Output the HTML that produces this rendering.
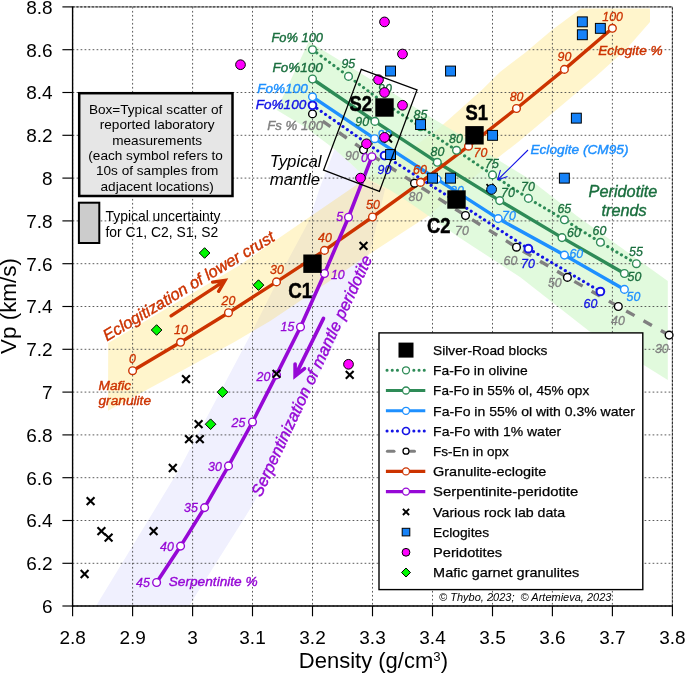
<!DOCTYPE html>
<html><head><meta charset="utf-8"><title>Vp vs Density</title>
<style>html,body{margin:0;padding:0;background:#fff}svg{display:block}text{font-family:"Liberation Sans",Arial,sans-serif}.it{font-style:italic}.cal{font-family:"Liberation Sans",sans-serif}</style></head><body>
<svg width="685" height="673" viewBox="0 0 685 673">
<rect width="685" height="673" fill="#fff"/>
<polygon points="96.0,606.0 180.0,468.0 253.0,330.0 287.0,262.0 309.5,220.0 319.0,190.0 334.6,149.3 350.0,163.0 367.3,179.0 385.0,189.0 372.0,245.0 336.0,340.0 296.0,420.0 252.0,506.0 189.0,606.0" fill="#F0F0FE" fill-opacity="1" />
<polygon points="108.2,343.0 108.0,410.8 168.6,378.0 234.9,341.7 270.2,320.9 300.0,301.0 373.7,251.3 428.4,215.7 489.5,164.3 519.4,141.0 558.0,108.4 596.7,75.7 626.4,48.9 650.0,22.0 650.0,8.4 581.0,8.4 552.0,30.0 524.8,53.0 500.0,72.0 481.8,90.0 437.8,129.2 390.0,164.2 367.3,177.5 295.0,227.0 240.0,265.0 172.0,305.3" fill="#FFCC00" fill-opacity="0.2" />
<polygon points="308.8,41.4 276.7,110.0 305.0,127.0 319.0,137.4 334.6,149.3 350.0,163.0 367.3,179.0 390.0,190.0 410.0,203.0 428.4,215.7 460.0,238.0 520.0,277.0 589.0,331.0 667.8,380.0 667.8,281.0 577.0,216.0 529.3,178.9 492.2,156.3 456.1,132.5 420.4,111.1 400.0,97.5 370.0,79.0" fill="#D7F8D2" fill-opacity="0.75" />
<line x1="72.6" y1="6.9" x2="72.6" y2="606.0" stroke="#484848" stroke-width="0.9" stroke-dasharray="1.7 2.3"/>
<line x1="132.6" y1="6.9" x2="132.6" y2="606.0" stroke="#484848" stroke-width="0.9" stroke-dasharray="1.7 2.3"/>
<line x1="192.6" y1="6.9" x2="192.6" y2="606.0" stroke="#484848" stroke-width="0.9" stroke-dasharray="1.7 2.3"/>
<line x1="252.5" y1="6.9" x2="252.5" y2="606.0" stroke="#484848" stroke-width="0.9" stroke-dasharray="1.7 2.3"/>
<line x1="312.5" y1="6.9" x2="312.5" y2="606.0" stroke="#484848" stroke-width="0.9" stroke-dasharray="1.7 2.3"/>
<line x1="372.5" y1="6.9" x2="372.5" y2="606.0" stroke="#484848" stroke-width="0.9" stroke-dasharray="1.7 2.3"/>
<line x1="432.5" y1="6.9" x2="432.5" y2="606.0" stroke="#484848" stroke-width="0.9" stroke-dasharray="1.7 2.3"/>
<line x1="492.5" y1="6.9" x2="492.5" y2="606.0" stroke="#484848" stroke-width="0.9" stroke-dasharray="1.7 2.3"/>
<line x1="552.4" y1="6.9" x2="552.4" y2="606.0" stroke="#484848" stroke-width="0.9" stroke-dasharray="1.7 2.3"/>
<line x1="612.4" y1="6.9" x2="612.4" y2="606.0" stroke="#484848" stroke-width="0.9" stroke-dasharray="1.7 2.3"/>
<line x1="672.4" y1="6.9" x2="672.4" y2="606.0" stroke="#484848" stroke-width="0.9" stroke-dasharray="1.7 2.3"/>
<line x1="72.6" y1="606.0" x2="672.4" y2="606.0" stroke="#484848" stroke-width="0.9" stroke-dasharray="1.7 2.3"/>
<line x1="72.6" y1="563.3" x2="672.4" y2="563.3" stroke="#484848" stroke-width="0.9" stroke-dasharray="1.7 2.3"/>
<line x1="72.6" y1="520.5" x2="672.4" y2="520.5" stroke="#484848" stroke-width="0.9" stroke-dasharray="1.7 2.3"/>
<line x1="72.6" y1="477.7" x2="672.4" y2="477.7" stroke="#484848" stroke-width="0.9" stroke-dasharray="1.7 2.3"/>
<line x1="72.6" y1="434.9" x2="672.4" y2="434.9" stroke="#484848" stroke-width="0.9" stroke-dasharray="1.7 2.3"/>
<line x1="72.6" y1="392.1" x2="672.4" y2="392.1" stroke="#484848" stroke-width="0.9" stroke-dasharray="1.7 2.3"/>
<line x1="72.6" y1="349.3" x2="672.4" y2="349.3" stroke="#484848" stroke-width="0.9" stroke-dasharray="1.7 2.3"/>
<line x1="72.6" y1="306.5" x2="672.4" y2="306.5" stroke="#484848" stroke-width="0.9" stroke-dasharray="1.7 2.3"/>
<line x1="72.6" y1="263.7" x2="672.4" y2="263.7" stroke="#484848" stroke-width="0.9" stroke-dasharray="1.7 2.3"/>
<line x1="72.6" y1="220.9" x2="672.4" y2="220.9" stroke="#484848" stroke-width="0.9" stroke-dasharray="1.7 2.3"/>
<line x1="72.6" y1="178.1" x2="672.4" y2="178.1" stroke="#484848" stroke-width="0.9" stroke-dasharray="1.7 2.3"/>
<line x1="72.6" y1="135.3" x2="672.4" y2="135.3" stroke="#484848" stroke-width="0.9" stroke-dasharray="1.7 2.3"/>
<line x1="72.6" y1="92.5" x2="672.4" y2="92.5" stroke="#484848" stroke-width="0.9" stroke-dasharray="1.7 2.3"/>
<line x1="72.6" y1="49.7" x2="672.4" y2="49.7" stroke="#484848" stroke-width="0.9" stroke-dasharray="1.7 2.3"/>
<line x1="72.6" y1="6.9" x2="672.4" y2="6.9" stroke="#484848" stroke-width="0.9" stroke-dasharray="1.7 2.3"/>
<path d="M72.6 6.9H672.4V606.0" fill="none" stroke="#9a9a9a" stroke-width="1"/>
<path d="M72.6 6.9H672.4V606.0" fill="none" stroke="#222" stroke-width="1" stroke-dasharray="2.2 1.6"/>
<line x1="72.6" y1="6.4" x2="72.6" y2="606.8" stroke="#000" stroke-width="1.4"/>
<line x1="71.9" y1="606.0" x2="672.9" y2="606.0" stroke="#000" stroke-width="1.5"/>
<line x1="72.6" y1="606.0" x2="72.6" y2="616.3" stroke="#000" stroke-width="1.15"/>
<text x="72.6" y="643.7" font-size="19" text-anchor="middle">2.8</text>
<line x1="132.6" y1="606.0" x2="132.6" y2="616.3" stroke="#000" stroke-width="1.15"/>
<text x="132.6" y="643.7" font-size="19" text-anchor="middle">2.9</text>
<line x1="192.6" y1="606.0" x2="192.6" y2="616.3" stroke="#000" stroke-width="1.15"/>
<text x="192.6" y="643.7" font-size="19" text-anchor="middle">3</text>
<line x1="252.5" y1="606.0" x2="252.5" y2="616.3" stroke="#000" stroke-width="1.15"/>
<text x="252.5" y="643.7" font-size="19" text-anchor="middle">3.1</text>
<line x1="312.5" y1="606.0" x2="312.5" y2="616.3" stroke="#000" stroke-width="1.15"/>
<text x="312.5" y="643.7" font-size="19" text-anchor="middle">3.2</text>
<line x1="372.5" y1="606.0" x2="372.5" y2="616.3" stroke="#000" stroke-width="1.15"/>
<text x="372.5" y="643.7" font-size="19" text-anchor="middle">3.3</text>
<line x1="432.5" y1="606.0" x2="432.5" y2="616.3" stroke="#000" stroke-width="1.15"/>
<text x="432.5" y="643.7" font-size="19" text-anchor="middle">3.4</text>
<line x1="492.5" y1="606.0" x2="492.5" y2="616.3" stroke="#000" stroke-width="1.15"/>
<text x="492.5" y="643.7" font-size="19" text-anchor="middle">3.5</text>
<line x1="552.4" y1="606.0" x2="552.4" y2="616.3" stroke="#000" stroke-width="1.15"/>
<text x="552.4" y="643.7" font-size="19" text-anchor="middle">3.6</text>
<line x1="612.4" y1="606.0" x2="612.4" y2="616.3" stroke="#000" stroke-width="1.15"/>
<text x="612.4" y="643.7" font-size="19" text-anchor="middle">3.7</text>
<line x1="672.4" y1="606.0" x2="672.4" y2="616.3" stroke="#000" stroke-width="1.15"/>
<text x="672.4" y="643.7" font-size="19" text-anchor="middle">3.8</text>
<line x1="62.4" y1="606.0" x2="72.6" y2="606.0" stroke="#000" stroke-width="1.15"/>
<text x="52.6" y="612.9" font-size="19" text-anchor="end">6</text>
<line x1="62.4" y1="563.3" x2="72.6" y2="563.3" stroke="#000" stroke-width="1.15"/>
<text x="52.6" y="570.2" font-size="19" text-anchor="end">6.2</text>
<line x1="62.4" y1="520.5" x2="72.6" y2="520.5" stroke="#000" stroke-width="1.15"/>
<text x="52.6" y="527.4" font-size="19" text-anchor="end">6.4</text>
<line x1="62.4" y1="477.7" x2="72.6" y2="477.7" stroke="#000" stroke-width="1.15"/>
<text x="52.6" y="484.6" font-size="19" text-anchor="end">6.6</text>
<line x1="62.4" y1="434.9" x2="72.6" y2="434.9" stroke="#000" stroke-width="1.15"/>
<text x="52.6" y="441.8" font-size="19" text-anchor="end">6.8</text>
<line x1="62.4" y1="392.1" x2="72.6" y2="392.1" stroke="#000" stroke-width="1.15"/>
<text x="52.6" y="399.0" font-size="19" text-anchor="end">7</text>
<line x1="62.4" y1="349.3" x2="72.6" y2="349.3" stroke="#000" stroke-width="1.15"/>
<text x="52.6" y="356.2" font-size="19" text-anchor="end">7.2</text>
<line x1="62.4" y1="306.5" x2="72.6" y2="306.5" stroke="#000" stroke-width="1.15"/>
<text x="52.6" y="313.4" font-size="19" text-anchor="end">7.4</text>
<line x1="62.4" y1="263.7" x2="72.6" y2="263.7" stroke="#000" stroke-width="1.15"/>
<text x="52.6" y="270.6" font-size="19" text-anchor="end">7.6</text>
<line x1="62.4" y1="220.9" x2="72.6" y2="220.9" stroke="#000" stroke-width="1.15"/>
<text x="52.6" y="227.8" font-size="19" text-anchor="end">7.8</text>
<line x1="62.4" y1="178.1" x2="72.6" y2="178.1" stroke="#000" stroke-width="1.15"/>
<text x="52.6" y="185.0" font-size="19" text-anchor="end">8</text>
<line x1="62.4" y1="135.3" x2="72.6" y2="135.3" stroke="#000" stroke-width="1.15"/>
<text x="52.6" y="142.2" font-size="19" text-anchor="end">8.2</text>
<line x1="62.4" y1="92.5" x2="72.6" y2="92.5" stroke="#000" stroke-width="1.15"/>
<text x="52.6" y="99.4" font-size="19" text-anchor="end">8.4</text>
<line x1="62.4" y1="49.7" x2="72.6" y2="49.7" stroke="#000" stroke-width="1.15"/>
<text x="52.6" y="56.6" font-size="19" text-anchor="end">8.6</text>
<line x1="62.4" y1="6.9" x2="72.6" y2="6.9" stroke="#000" stroke-width="1.15"/>
<text x="52.6" y="13.8" font-size="19" text-anchor="end">8.8</text>
<text x="298.8" y="668.2" font-size="22" text-anchor="start">Density (g/cm<tspan font-size="13.2" dy="-7.7">3</tspan><tspan dy="7.7">)</tspan></text>
<text transform="translate(16.3,306.0) rotate(-90)" font-size="22.4" text-anchor="middle">Vp (km/s)</text>
<polyline points="312.5,113.9 363.5,149.8 414.5,183.2 465.5,215.5 516.5,247.2 567.4,277.4 618.3,306.5 669.1,335.1" fill="none" stroke="#808080" stroke-width="3.4" stroke-dasharray="9.6 10.3" stroke-dashoffset="7.5" stroke-linecap="butt"/>
<polyline points="312.5,105.3 384.5,155.6 456.5,201.6 528.4,248.7 600.4,291.5" fill="none" stroke="#1414E6" stroke-width="3.1" stroke-dasharray="0.1 5.2" stroke-linecap="round"/>
<polyline points="312.5,96.8 374.7,138.7 436.9,179.2 498.2,218.6 564.4,255.1 624.4,289.4" fill="none" stroke="#1E90FF" stroke-width="3.4" stroke-linecap="butt"/>
<polyline points="312.5,79.0 374.9,121.4 437.3,162.3 499.7,200.6 562.0,237.6 624.4,273.5" fill="none" stroke="#2E8B57" stroke-width="3.4" stroke-linecap="butt"/>
<polyline points="312.5,49.7 348.5,76.4 384.5,103.2 420.5,126.7 456.5,150.3 492.5,174.9 528.4,198.4 564.4,219.8 600.4,242.3 636.4,263.7" fill="none" stroke="#2E8B57" stroke-width="3.1" stroke-dasharray="0.1 5.2" stroke-linecap="round"/>
<polyline points="132.6,370.7 180.6,342.3 228.5,312.7 276.5,281.9 324.5,250.4 372.5,217.0 420.5,182.4 468.5,146.2 516.5,108.5 564.4,69.4 612.4,28.3" fill="none" stroke="#CC3300" stroke-width="3.4" stroke-linecap="butt"/>
<polyline points="156.6,582.5 180.6,546.1 204.6,507.6 228.5,465.9 252.5,422.0 276.5,374.9 300.5,327.0 324.5,273.5 348.5,217.2 371.9,156.7" fill="none" stroke="#9608D6" stroke-width="3.6" stroke-linecap="butt"/>
<text x="457.0" y="194.5" font-size="12.4" fill="#1E90FF" text-anchor="middle" font-style="italic" stroke="#1E90FF" stroke-width="0.3">80</text>
<text x="385.0" y="93.0" font-size="12.4" fill="#1A6E3E" text-anchor="middle" font-style="italic" stroke="#1A6E3E" stroke-width="0.3">90</text>
<text x="384.4" y="138.5" font-size="12.4" fill="#1E90FF" text-anchor="middle" font-style="italic" stroke="#1E90FF" stroke-width="0.3">90</text>
<circle cx="312.5" cy="113.9" r="3.85" fill="#fff" stroke="#000" stroke-width="1.4"/>
<circle cx="363.5" cy="149.8" r="3.85" fill="#fff" stroke="#000" stroke-width="1.4"/>
<circle cx="414.5" cy="183.2" r="3.85" fill="#fff" stroke="#000" stroke-width="1.4"/>
<circle cx="465.5" cy="215.5" r="3.85" fill="#fff" stroke="#000" stroke-width="1.4"/>
<circle cx="516.5" cy="247.2" r="3.85" fill="#fff" stroke="#000" stroke-width="1.4"/>
<circle cx="567.4" cy="277.4" r="3.85" fill="#fff" stroke="#000" stroke-width="1.4"/>
<circle cx="618.3" cy="306.5" r="3.85" fill="#fff" stroke="#000" stroke-width="1.4"/>
<circle cx="669.1" cy="335.1" r="3.85" fill="#fff" stroke="#000" stroke-width="1.4"/>
<circle cx="312.5" cy="105.3" r="3.85" fill="#fff" stroke="#1414E6" stroke-width="2.0"/>
<circle cx="384.5" cy="155.6" r="3.85" fill="#fff" stroke="#1414E6" stroke-width="2.0"/>
<circle cx="456.5" cy="201.6" r="3.85" fill="#fff" stroke="#1414E6" stroke-width="2.0"/>
<circle cx="528.4" cy="248.7" r="3.85" fill="#fff" stroke="#1414E6" stroke-width="2.0"/>
<circle cx="600.4" cy="291.5" r="3.85" fill="#fff" stroke="#1414E6" stroke-width="2.0"/>
<circle cx="312.5" cy="96.8" r="3.85" fill="#fff" stroke="#1E90FF" stroke-width="1.4"/>
<circle cx="374.7" cy="138.7" r="3.85" fill="#fff" stroke="#1E90FF" stroke-width="1.4"/>
<circle cx="436.9" cy="179.2" r="3.85" fill="#fff" stroke="#1E90FF" stroke-width="1.4"/>
<circle cx="498.2" cy="218.6" r="3.85" fill="#fff" stroke="#1E90FF" stroke-width="1.4"/>
<circle cx="564.4" cy="255.1" r="3.85" fill="#fff" stroke="#1E90FF" stroke-width="1.4"/>
<circle cx="624.4" cy="289.4" r="3.85" fill="#fff" stroke="#1E90FF" stroke-width="1.4"/>
<circle cx="312.5" cy="79.0" r="3.85" fill="#fff" stroke="#2E8B57" stroke-width="1.4"/>
<circle cx="374.9" cy="121.4" r="3.85" fill="#fff" stroke="#2E8B57" stroke-width="1.4"/>
<circle cx="437.3" cy="162.3" r="3.85" fill="#fff" stroke="#2E8B57" stroke-width="1.4"/>
<circle cx="499.7" cy="200.6" r="3.85" fill="#fff" stroke="#2E8B57" stroke-width="1.4"/>
<circle cx="562.0" cy="237.6" r="3.85" fill="#fff" stroke="#2E8B57" stroke-width="1.4"/>
<circle cx="624.4" cy="273.5" r="3.85" fill="#fff" stroke="#2E8B57" stroke-width="1.4"/>
<circle cx="312.5" cy="49.7" r="3.85" fill="#fff" stroke="#2E8B57" stroke-width="1.4"/>
<circle cx="348.5" cy="76.4" r="3.85" fill="#fff" stroke="#2E8B57" stroke-width="1.4"/>
<circle cx="384.5" cy="103.2" r="3.85" fill="#fff" stroke="#2E8B57" stroke-width="1.4"/>
<circle cx="420.5" cy="126.7" r="3.85" fill="#fff" stroke="#2E8B57" stroke-width="1.4"/>
<circle cx="456.5" cy="150.3" r="3.85" fill="#fff" stroke="#2E8B57" stroke-width="1.4"/>
<circle cx="492.5" cy="174.9" r="3.85" fill="#fff" stroke="#2E8B57" stroke-width="1.4"/>
<circle cx="528.4" cy="198.4" r="3.85" fill="#fff" stroke="#2E8B57" stroke-width="1.4"/>
<circle cx="564.4" cy="219.8" r="3.85" fill="#fff" stroke="#2E8B57" stroke-width="1.4"/>
<circle cx="600.4" cy="242.3" r="3.85" fill="#fff" stroke="#2E8B57" stroke-width="1.4"/>
<circle cx="636.4" cy="263.7" r="3.85" fill="#fff" stroke="#2E8B57" stroke-width="1.4"/>
<circle cx="132.6" cy="370.7" r="3.85" fill="#fff" stroke="#CC3300" stroke-width="1.4"/>
<circle cx="180.6" cy="342.3" r="3.85" fill="#fff" stroke="#CC3300" stroke-width="1.4"/>
<circle cx="228.5" cy="312.7" r="3.85" fill="#fff" stroke="#CC3300" stroke-width="1.4"/>
<circle cx="276.5" cy="281.9" r="3.85" fill="#fff" stroke="#CC3300" stroke-width="1.4"/>
<circle cx="324.5" cy="250.4" r="3.85" fill="#fff" stroke="#CC3300" stroke-width="1.4"/>
<circle cx="372.5" cy="217.0" r="3.85" fill="#fff" stroke="#CC3300" stroke-width="1.4"/>
<circle cx="420.5" cy="182.4" r="3.85" fill="#fff" stroke="#CC3300" stroke-width="1.4"/>
<circle cx="468.5" cy="146.2" r="3.85" fill="#fff" stroke="#CC3300" stroke-width="1.4"/>
<circle cx="516.5" cy="108.5" r="3.85" fill="#fff" stroke="#CC3300" stroke-width="1.4"/>
<circle cx="564.4" cy="69.4" r="3.85" fill="#fff" stroke="#CC3300" stroke-width="1.4"/>
<circle cx="612.4" cy="28.3" r="3.85" fill="#fff" stroke="#CC3300" stroke-width="1.4"/>
<circle cx="156.6" cy="582.5" r="3.85" fill="#fff" stroke="#9608D6" stroke-width="1.4"/>
<circle cx="180.6" cy="546.1" r="3.85" fill="#fff" stroke="#9608D6" stroke-width="1.4"/>
<circle cx="204.6" cy="507.6" r="3.85" fill="#fff" stroke="#9608D6" stroke-width="1.4"/>
<circle cx="228.5" cy="465.9" r="3.85" fill="#fff" stroke="#9608D6" stroke-width="1.4"/>
<circle cx="252.5" cy="422.0" r="3.85" fill="#fff" stroke="#9608D6" stroke-width="1.4"/>
<circle cx="276.5" cy="374.9" r="3.85" fill="#fff" stroke="#9608D6" stroke-width="1.4"/>
<circle cx="300.5" cy="327.0" r="3.85" fill="#fff" stroke="#9608D6" stroke-width="1.4"/>
<circle cx="324.5" cy="273.5" r="3.85" fill="#fff" stroke="#9608D6" stroke-width="1.4"/>
<circle cx="348.5" cy="217.2" r="3.85" fill="#fff" stroke="#9608D6" stroke-width="1.4"/>
<circle cx="371.9" cy="156.7" r="3.85" fill="#fff" stroke="#9608D6" stroke-width="1.4"/>
<path d="M80.7 570.1L88.5 577.9M80.7 577.9L88.5 570.1" stroke="#000" stroke-width="2.1" fill="none"/>
<path d="M86.7 497.3L94.5 505.1M86.7 505.1L94.5 497.3" stroke="#000" stroke-width="2.1" fill="none"/>
<path d="M97.5 527.3L105.3 535.1M97.5 535.1L105.3 527.3" stroke="#000" stroke-width="2.1" fill="none"/>
<path d="M104.7 533.7L112.5 541.5M104.7 541.5L112.5 533.7" stroke="#000" stroke-width="2.1" fill="none"/>
<path d="M149.7 527.3L157.5 535.1M149.7 535.1L157.5 527.3" stroke="#000" stroke-width="2.1" fill="none"/>
<path d="M168.9 464.1L176.7 471.9M168.9 471.9L176.7 464.1" stroke="#000" stroke-width="2.1" fill="none"/>
<path d="M182.1 375.3L189.9 383.1M182.1 383.1L189.9 375.3" stroke="#000" stroke-width="2.1" fill="none"/>
<path d="M185.1 435.2L192.9 443.0M185.1 443.0L192.9 435.2" stroke="#000" stroke-width="2.1" fill="none"/>
<path d="M195.9 435.2L203.7 443.0M195.9 443.0L203.7 435.2" stroke="#000" stroke-width="2.1" fill="none"/>
<path d="M194.7 420.3L202.5 428.1M194.7 428.1L202.5 420.3" stroke="#000" stroke-width="2.1" fill="none"/>
<path d="M272.6 370.0L280.4 377.8M272.6 377.8L280.4 370.0" stroke="#000" stroke-width="2.1" fill="none"/>
<path d="M345.8 371.0L353.6 378.8M345.8 378.8L353.6 371.0" stroke="#000" stroke-width="2.1" fill="none"/>
<path d="M359.6 242.0L367.4 249.8M359.6 249.8L367.4 242.0" stroke="#000" stroke-width="2.1" fill="none"/>
<polygon points="204.6,247.7 209.9,253.0 204.6,258.3 199.3,253.0" fill="#00F800" stroke="#000" stroke-width="1"/>
<polygon points="258.5,279.8 263.8,285.1 258.5,290.4 253.2,285.1" fill="#00F800" stroke="#000" stroke-width="1"/>
<polygon points="156.6,324.7 161.9,330.0 156.6,335.3 151.3,330.0" fill="#00F800" stroke="#000" stroke-width="1"/>
<polygon points="222.5,386.8 227.8,392.1 222.5,397.4 217.2,392.1" fill="#00F800" stroke="#000" stroke-width="1"/>
<polygon points="210.6,418.9 215.9,424.2 210.6,429.5 205.3,424.2" fill="#00F800" stroke="#000" stroke-width="1"/>
<rect x="577.4" y="16.9" width="9.9" height="9.9" fill="#1682F8" stroke="#000" stroke-width="1"/>
<rect x="577.4" y="29.8" width="9.9" height="9.9" fill="#1682F8" stroke="#000" stroke-width="1"/>
<rect x="595.4" y="23.4" width="9.9" height="9.9" fill="#1682F8" stroke="#000" stroke-width="1"/>
<rect x="385.6" y="66.1" width="9.9" height="9.9" fill="#1682F8" stroke="#000" stroke-width="1"/>
<rect x="445.6" y="66.1" width="9.9" height="9.9" fill="#1682F8" stroke="#000" stroke-width="1"/>
<rect x="415.6" y="119.6" width="9.9" height="9.9" fill="#1682F8" stroke="#000" stroke-width="1"/>
<rect x="487.6" y="130.4" width="9.9" height="9.9" fill="#1682F8" stroke="#000" stroke-width="1"/>
<rect x="571.4" y="113.2" width="9.9" height="9.9" fill="#1682F8" stroke="#000" stroke-width="1"/>
<rect x="385.6" y="149.6" width="9.9" height="9.9" fill="#1682F8" stroke="#000" stroke-width="1"/>
<rect x="427.6" y="173.2" width="9.9" height="9.9" fill="#1682F8" stroke="#000" stroke-width="1"/>
<rect x="445.6" y="173.2" width="9.9" height="9.9" fill="#1682F8" stroke="#000" stroke-width="1"/>
<rect x="559.4" y="173.2" width="9.9" height="9.9" fill="#1682F8" stroke="#000" stroke-width="1"/>
<path d="M486.5 184.1L493.7 191.3M486.5 191.3L493.7 184.1" stroke="#000" stroke-width="1.8" fill="none"/>
<circle cx="491.6" cy="189.4" r="4.9" fill="#1682F8" stroke="#000" stroke-width="1"/>
<path d="M384.2 134.6L392.0 142.4M384.2 142.4L392.0 134.6" stroke="#000" stroke-width="2.1" fill="none"/>
<circle cx="240.5" cy="64.7" r="4.85" fill="#FF00FF" stroke="#000" stroke-width="1"/>
<circle cx="384.5" cy="21.9" r="4.85" fill="#FF00FF" stroke="#000" stroke-width="1"/>
<circle cx="402.5" cy="54.0" r="4.85" fill="#FF00FF" stroke="#000" stroke-width="1"/>
<circle cx="378.5" cy="79.7" r="4.85" fill="#FF00FF" stroke="#000" stroke-width="1"/>
<circle cx="384.5" cy="92.5" r="4.85" fill="#FF00FF" stroke="#000" stroke-width="1"/>
<circle cx="402.5" cy="105.3" r="4.85" fill="#FF00FF" stroke="#000" stroke-width="1"/>
<circle cx="384.5" cy="137.4" r="4.85" fill="#FF00FF" stroke="#000" stroke-width="1"/>
<circle cx="366.5" cy="143.8" r="4.85" fill="#FF00FF" stroke="#000" stroke-width="1"/>
<circle cx="360.5" cy="178.1" r="4.85" fill="#FF00FF" stroke="#000" stroke-width="1"/>
<circle cx="348.5" cy="364.3" r="4.85" fill="#FF00FF" stroke="#000" stroke-width="1"/>
<rect x="303.3" y="254.5" width="18.4" height="18.4" fill="#000"/>
<rect x="447.3" y="190.3" width="18.4" height="18.4" fill="#000"/>
<rect x="465.3" y="126.1" width="18.4" height="18.4" fill="#000"/>
<rect x="375.3" y="98.3" width="18.4" height="18.4" fill="#000"/>
<polygon points="361.3,69.3 417,90 379.4,191.4 323.6,170" fill="none" stroke="#000" stroke-width="1.3"/>
<text x="323.0" y="41.9" font-size="12.9" fill="#1A6E3E" text-anchor="end" font-style="italic" stroke="#1A6E3E" stroke-width="0.4" >Fo% 100</text>
<text x="322.9" y="71.9" font-size="13.5" fill="#1A6E3E" text-anchor="end" font-style="italic" stroke="#1A6E3E" stroke-width="0.4" >Fo%100</text>
<text x="307.8" y="93.0" font-size="13.6" fill="#1E90FF" text-anchor="end" font-style="italic" stroke="#1E90FF" stroke-width="0.4" >Fo%100</text>
<text x="306.3" y="109.0" font-size="13.6" fill="#1414E6" text-anchor="end" font-style="italic" stroke="#1414E6" stroke-width="0.4" >Fo%100</text>
<text x="323.0" y="130.3" font-size="13.2" fill="#808080" text-anchor="end" font-style="italic" stroke="#808080" stroke-width="0.4" >Fs % 100</text>
<text x="269.7" y="166.5" font-size="16.8" fill="#000" text-anchor="start" font-style="italic" stroke="none">Typical</text>
<text x="269.7" y="185.3" font-size="16.8" fill="#000" text-anchor="start" font-style="italic" stroke="none">mantle</text>
<text x="132.5" y="363.0" font-size="12.4" fill="#CC3300" text-anchor="middle" font-style="italic" stroke="#CC3300" stroke-width="0.3">0</text>
<text x="181.0" y="333.5" font-size="12.4" fill="#CC3300" text-anchor="middle" font-style="italic" stroke="#CC3300" stroke-width="0.3">10</text>
<text x="228.5" y="304.5" font-size="12.4" fill="#CC3300" text-anchor="middle" font-style="italic" stroke="#CC3300" stroke-width="0.3">20</text>
<text x="277.0" y="273.5" font-size="12.4" fill="#CC3300" text-anchor="middle" font-style="italic" stroke="#CC3300" stroke-width="0.3">30</text>
<text x="325.0" y="241.5" font-size="12.4" fill="#CC3300" text-anchor="middle" font-style="italic" stroke="#CC3300" stroke-width="0.3">40</text>
<text x="373.0" y="208.5" font-size="12.4" fill="#CC3300" text-anchor="middle" font-style="italic" stroke="#CC3300" stroke-width="0.3">50</text>
<text x="420.0" y="173.5" font-size="12.4" fill="#CC3300" text-anchor="middle" font-style="italic" stroke="#CC3300" stroke-width="0.3">60</text>
<text x="480.5" y="157.0" font-size="12.4" fill="#CC3300" text-anchor="middle" font-style="italic" stroke="#CC3300" stroke-width="0.3">70</text>
<text x="516.6" y="100.6" font-size="12.4" fill="#CC3300" text-anchor="middle" font-style="italic" stroke="#CC3300" stroke-width="0.3">80</text>
<text x="564.5" y="61.1" font-size="12.4" fill="#CC3300" text-anchor="middle" font-style="italic" stroke="#CC3300" stroke-width="0.3">90</text>
<text x="612.6" y="20.7" font-size="12.4" fill="#CC3300" text-anchor="middle" font-style="italic" stroke="#CC3300" stroke-width="0.3">100</text>
<text x="598.2" y="54.5" font-size="13.65" fill="#CC3300" text-anchor="start" font-style="italic" stroke="#CC3300" stroke-width="0.4" >Eclogite %</text>
<text x="98.5" y="390.3" font-size="13.7" fill="#CC3300" text-anchor="start" font-style="italic" stroke="#CC3300" stroke-width="0.4" >Mafic</text>
<text x="98.5" y="405.0" font-size="13.7" fill="#CC3300" text-anchor="start" font-style="italic" stroke="#CC3300" stroke-width="0.4" >granulite</text>
<text x="0" y="0" transform="translate(106.9,341.6) rotate(-31.0)" font-size="16.3" fill="#CC3300" text-anchor="start" font-style="italic" stroke="#CC3300" stroke-width="0.4" >Eclogitization of lower crust</text>
<text x="364.5" y="162.2" font-size="12.4" fill="#9608D6" text-anchor="middle" font-style="italic" stroke="#9608D6" stroke-width="0.3">0</text>
<text x="339.6" y="221.0" font-size="12.4" fill="#9608D6" text-anchor="middle" font-style="italic" stroke="#9608D6" stroke-width="0.3">5</text>
<text x="337.8" y="278.5" font-size="12.4" fill="#9608D6" text-anchor="middle" font-style="italic" stroke="#9608D6" stroke-width="0.3">10</text>
<text x="287.5" y="331.0" font-size="12.4" fill="#9608D6" text-anchor="middle" font-style="italic" stroke="#9608D6" stroke-width="0.3">15</text>
<text x="263.5" y="380.5" font-size="12.4" fill="#9608D6" text-anchor="middle" font-style="italic" stroke="#9608D6" stroke-width="0.3">20</text>
<text x="238.5" y="427.0" font-size="12.4" fill="#9608D6" text-anchor="middle" font-style="italic" stroke="#9608D6" stroke-width="0.3">25</text>
<text x="215.0" y="470.5" font-size="12.4" fill="#9608D6" text-anchor="middle" font-style="italic" stroke="#9608D6" stroke-width="0.3">30</text>
<text x="191.0" y="511.5" font-size="12.4" fill="#9608D6" text-anchor="middle" font-style="italic" stroke="#9608D6" stroke-width="0.3">35</text>
<text x="167.0" y="550.5" font-size="12.4" fill="#9608D6" text-anchor="middle" font-style="italic" stroke="#9608D6" stroke-width="0.3">40</text>
<text x="143.0" y="587.0" font-size="12.4" fill="#9608D6" text-anchor="middle" font-style="italic" stroke="#9608D6" stroke-width="0.3">45</text>
<text x="168.7" y="586.3" font-size="13.7" fill="#9608D6" text-anchor="start" font-style="italic" stroke="#9608D6" stroke-width="0.4" >Serpentinite %</text>
<text x="0" y="0" transform="translate(261.1,497.7) rotate(-65.0)" font-size="16.55" fill="#9608D6" text-anchor="start" font-style="italic" stroke="#9608D6" stroke-width="0.4" >Serpentinization of mantle peridotite</text>
<text x="348.3" y="67.5" font-size="12.4" fill="#1A6E3E" text-anchor="middle" font-style="italic" stroke="#1A6E3E" stroke-width="0.3">95</text>
<text x="420.5" y="118.5" font-size="12.4" fill="#1A6E3E" text-anchor="middle" font-style="italic" stroke="#1A6E3E" stroke-width="0.3">85</text>
<text x="456.0" y="143.0" font-size="12.4" fill="#1A6E3E" text-anchor="middle" font-style="italic" stroke="#1A6E3E" stroke-width="0.3">80</text>
<text x="437.5" y="156.0" font-size="12.4" fill="#1A6E3E" text-anchor="middle" font-style="italic" stroke="#1A6E3E" stroke-width="0.3">80</text>
<text x="492.0" y="168.0" font-size="12.4" fill="#1A6E3E" text-anchor="middle" font-style="italic" stroke="#1A6E3E" stroke-width="0.3">75</text>
<text x="528.0" y="190.5" font-size="12.4" fill="#1A6E3E" text-anchor="middle" font-style="italic" stroke="#1A6E3E" stroke-width="0.3">70</text>
<text x="508.0" y="196.5" font-size="12.4" fill="#1A6E3E" text-anchor="middle" font-style="italic" stroke="#1A6E3E" stroke-width="0.3">70</text>
<text x="564.3" y="212.9" font-size="12.4" fill="#1A6E3E" text-anchor="middle" font-style="italic" stroke="#1A6E3E" stroke-width="0.3">65</text>
<text x="574.0" y="236.5" font-size="12.4" fill="#1A6E3E" text-anchor="middle" font-style="italic" stroke="#1A6E3E" stroke-width="0.3">60</text>
<text x="599.5" y="234.5" font-size="12.4" fill="#1A6E3E" text-anchor="middle" font-style="italic" stroke="#1A6E3E" stroke-width="0.3">60</text>
<text x="636.0" y="256.0" font-size="12.4" fill="#1A6E3E" text-anchor="middle" font-style="italic" stroke="#1A6E3E" stroke-width="0.3">55</text>
<text x="634.5" y="280.5" font-size="12.4" fill="#1A6E3E" text-anchor="middle" font-style="italic" stroke="#1A6E3E" stroke-width="0.3">50</text>
<text x="362.2" y="126.0" font-size="12.4" fill="#1A6E3E" text-anchor="middle" font-style="italic" stroke="#1A6E3E" stroke-width="0.3">90</text>
<text x="509.0" y="219.5" font-size="12.4" fill="#1E90FF" text-anchor="middle" font-style="italic" stroke="#1E90FF" stroke-width="0.3">70</text>
<text x="576.3" y="258.3" font-size="12.4" fill="#1E90FF" text-anchor="middle" font-style="italic" stroke="#1E90FF" stroke-width="0.3">60</text>
<text x="633.5" y="300.5" font-size="12.4" fill="#1E90FF" text-anchor="middle" font-style="italic" stroke="#1E90FF" stroke-width="0.3">50</text>
<text x="384.5" y="173.5" font-size="12.4" fill="#1414E6" text-anchor="middle" font-style="italic" stroke="#1414E6" stroke-width="0.3">90</text>
<text x="528.0" y="268.0" font-size="12.4" fill="#1414E6" text-anchor="middle" font-style="italic" stroke="#1414E6" stroke-width="0.3">70</text>
<text x="590.5" y="308.0" font-size="12.4" fill="#1414E6" text-anchor="middle" font-style="italic" stroke="#1414E6" stroke-width="0.3">60</text>
<text x="352.0" y="159.5" font-size="12.4" fill="#808080" text-anchor="middle" font-style="italic" stroke="#808080" stroke-width="0.3">90</text>
<text x="415.5" y="201.0" font-size="12.4" fill="#808080" text-anchor="middle" font-style="italic" stroke="#808080" stroke-width="0.3">80</text>
<text x="462.0" y="234.5" font-size="12.4" fill="#808080" text-anchor="middle" font-style="italic" stroke="#808080" stroke-width="0.3">70</text>
<text x="510.5" y="264.5" font-size="12.4" fill="#808080" text-anchor="middle" font-style="italic" stroke="#808080" stroke-width="0.3">60</text>
<text x="554.8" y="287.1" font-size="12.4" fill="#808080" text-anchor="middle" font-style="italic" stroke="#808080" stroke-width="0.3">50</text>
<text x="618.0" y="324.5" font-size="12.4" fill="#808080" text-anchor="middle" font-style="italic" stroke="#808080" stroke-width="0.3">40</text>
<text x="661.8" y="353.0" font-size="12.4" fill="#808080" text-anchor="middle" font-style="italic" stroke="#808080" stroke-width="0.3">30</text>
<text x="530.4" y="154.2" font-size="13.7" fill="#1E90FF" text-anchor="start" font-style="italic" stroke="#1E90FF" stroke-width="0.4" >Eclogite (CM95)</text>
<text x="588.6" y="197.2" font-size="16.3" fill="#1A6E3E" text-anchor="start" font-style="italic" stroke="#1A6E3E" stroke-width="0.4" >Peridotite</text>
<text x="601.5" y="215.9" font-size="16.3" fill="#1A6E3E" text-anchor="start" font-style="italic" stroke="#1A6E3E" stroke-width="0.4" >trends</text>
<text x="288.3" y="297.5" font-size="21.6" fill="#000" text-anchor="start" font-weight="bold" stroke="#000" stroke-width="0.5" textLength="24" lengthAdjust="spacingAndGlyphs">C1</text>
<text x="427.0" y="233.3" font-size="21.6" fill="#000" text-anchor="start" font-weight="bold" stroke="#000" stroke-width="0.5" textLength="23.5" lengthAdjust="spacingAndGlyphs">C2</text>
<text x="465.5" y="119.5" font-size="21.6" fill="#000" text-anchor="start" font-weight="bold" stroke="#000" stroke-width="0.5" textLength="22.5" lengthAdjust="spacingAndGlyphs">S1</text>
<text x="349.5" y="110.5" font-size="21.6" fill="#000" text-anchor="start" font-weight="bold" stroke="#000" stroke-width="0.5" textLength="22.5" lengthAdjust="spacingAndGlyphs">S2</text>
<path d="M171.1 315.8L224.2 281.1M212.6 282.1L225.0 280.5L218.6 291.3" fill="none" stroke="#CC3300" stroke-width="3.4" stroke-linecap="round" stroke-linejoin="miter"/>
<path d="M323.5 318.4L295.5 375.1M304.5 368.6L295.1 376.0L295.1 364.0" fill="none" stroke="#9608D6" stroke-width="3.6" stroke-linecap="round" stroke-linejoin="miter"/>
<path d="M528 150L497.5 180M497.5 180L500.5 170M497.5 180L507.5 176.5" stroke="#1414E6" stroke-width="1.1" fill="none"/>
<rect x="79.2" y="93.2" width="153.3" height="102.8" fill="#E6E6E6" stroke="#000" stroke-width="2.5"/>
<text x="155.6" y="114.0" font-size="13.6" fill="#000" text-anchor="middle" >Box=Typical scatter of</text>
<text x="157.2" y="129.3" font-size="13.6" fill="#000" text-anchor="middle" >reported laboratory</text>
<text x="157.2" y="144.7" font-size="13.6" fill="#000" text-anchor="middle" >measurements</text>
<text x="155.6" y="160.1" font-size="13.6" fill="#000" text-anchor="middle" >(each symbol refers to</text>
<text x="157.2" y="175.4" font-size="13.6" fill="#000" text-anchor="middle" >10s of samples from</text>
<text x="157.2" y="190.8" font-size="13.6" fill="#000" text-anchor="middle" >adjacent locations)</text>
<rect x="78.9" y="202.7" width="20.4" height="40.3" fill="#CCCCCC" stroke="#000" stroke-width="2"/>
<text x="105.5" y="221.3" font-size="13.9" fill="#000" text-anchor="start" >Typical uncertainty</text>
<text x="105.5" y="236.8" font-size="13.9" fill="#000" text-anchor="start" >for C1, C2, S1, S2</text>
<rect x="379.0" y="332.9" width="263.8" height="256.7" fill="#fff" stroke="#000" stroke-width="1.4"/>
<text x="433.1" y="354.8" font-size="13.5" fill="#000" stroke="#000" stroke-width="0.25" textLength="114.3" lengthAdjust="spacingAndGlyphs">Silver-Road blocks</text>
<text x="433.1" y="375.0" font-size="13.5" fill="#000" stroke="#000" stroke-width="0.25" textLength="94.6" lengthAdjust="spacingAndGlyphs">Fa-Fo in olivine</text>
<text x="433.1" y="395.2" font-size="13.5" fill="#000" stroke="#000" stroke-width="0.25" textLength="156.1" lengthAdjust="spacingAndGlyphs">Fa-Fo in 55% ol, 45% opx</text>
<text x="433.1" y="415.5" font-size="13.5" fill="#000" stroke="#000" stroke-width="0.25" textLength="201.8" lengthAdjust="spacingAndGlyphs">Fa-Fo in 55% ol with 0.3% water</text>
<text x="433.1" y="435.7" font-size="13.5" fill="#000" stroke="#000" stroke-width="0.25" textLength="128.1" lengthAdjust="spacingAndGlyphs">Fa-Fo with 1% water</text>
<text x="433.1" y="455.9" font-size="13.5" fill="#000" stroke="#000" stroke-width="0.25" textLength="75.7" lengthAdjust="spacingAndGlyphs">Fs-En in opx</text>
<text x="433.1" y="476.1" font-size="13.5" fill="#000" stroke="#000" stroke-width="0.25" textLength="113.1" lengthAdjust="spacingAndGlyphs">Granulite-eclogite</text>
<text x="433.1" y="496.3" font-size="13.5" fill="#000" stroke="#000" stroke-width="0.25" textLength="145.1" lengthAdjust="spacingAndGlyphs">Serpentinite-peridotite</text>
<text x="433.1" y="516.6" font-size="13.5" fill="#000" stroke="#000" stroke-width="0.25" textLength="132.1" lengthAdjust="spacingAndGlyphs">Various rock lab data</text>
<text x="433.1" y="536.8" font-size="13.5" fill="#000" stroke="#000" stroke-width="0.25" textLength="56.0" lengthAdjust="spacingAndGlyphs">Eclogites</text>
<text x="433.1" y="557.0" font-size="13.5" fill="#000" stroke="#000" stroke-width="0.25" textLength="69.0" lengthAdjust="spacingAndGlyphs">Peridotites</text>
<text x="433.1" y="577.2" font-size="13.5" fill="#000" stroke="#000" stroke-width="0.25" textLength="146.2" lengthAdjust="spacingAndGlyphs">Mafic garnet granulites</text>
<rect x="398.5" y="342.6" width="15" height="15" fill="#000"/>
<line x1="387.0" y1="370.3" x2="398.0" y2="370.3" stroke="#2E8B57" stroke-width="3.0" stroke-linecap="round" stroke-dasharray="0.1 5.1"/>
<line x1="413.8" y1="370.3" x2="425.0" y2="370.3" stroke="#2E8B57" stroke-width="3.0" stroke-linecap="round" stroke-dasharray="0.1 5.1"/>
<circle cx="406.0" cy="370.3" r="3.5" fill="#fff" stroke="#2E8B57" stroke-width="1.3"/>
<line x1="385.9" y1="390.5" x2="425.3" y2="390.5" stroke="#2E8B57" stroke-width="3.1" stroke-linecap="butt"/>
<circle cx="406.0" cy="390.5" r="3.5" fill="#fff" stroke="#2E8B57" stroke-width="1.3"/>
<line x1="385.9" y1="410.8" x2="425.3" y2="410.8" stroke="#1E90FF" stroke-width="3.1" stroke-linecap="butt"/>
<circle cx="406.0" cy="410.8" r="3.5" fill="#fff" stroke="#1E90FF" stroke-width="1.3"/>
<line x1="387.0" y1="431.0" x2="398.0" y2="431.0" stroke="#1414E6" stroke-width="3.0" stroke-linecap="round" stroke-dasharray="0.1 5.1"/>
<line x1="413.8" y1="431.0" x2="425.0" y2="431.0" stroke="#1414E6" stroke-width="3.0" stroke-linecap="round" stroke-dasharray="0.1 5.1"/>
<circle cx="406.0" cy="431.0" r="3.5" fill="#fff" stroke="#1414E6" stroke-width="1.7"/>
<line x1="387.4" y1="451.2" x2="394.0" y2="451.2" stroke="#808080" stroke-width="3.0" stroke-linecap="round"/>
<line x1="410.5" y1="451.2" x2="414.5" y2="451.2" stroke="#808080" stroke-width="3.0" stroke-linecap="round"/>
<circle cx="406.0" cy="451.2" r="3.0" fill="#fff" stroke="#000" stroke-width="1.3"/>
<line x1="385.9" y1="471.4" x2="425.3" y2="471.4" stroke="#CC3300" stroke-width="3.1" stroke-linecap="butt"/>
<circle cx="406.0" cy="471.4" r="3.5" fill="#fff" stroke="#CC3300" stroke-width="1.3"/>
<line x1="385.9" y1="491.6" x2="425.3" y2="491.6" stroke="#9608D6" stroke-width="3.1" stroke-linecap="butt"/>
<circle cx="406.0" cy="491.6" r="3.5" fill="#fff" stroke="#9608D6" stroke-width="1.3"/>
<path d="M402.9 508.8L409.1 515.0M402.9 515.0L409.1 508.8" stroke="#000" stroke-width="1.9" fill="none"/>
<rect x="402.2" y="528.3" width="7.6" height="7.6" fill="#1682F8" stroke="#000" stroke-width="1"/>
<circle cx="406.0" cy="552.3" r="3.9" fill="#FF00FF" stroke="#000" stroke-width="1"/>
<polygon points="406.0,568.0 410.5,572.5 406.0,577.0 401.5,572.5" fill="#00F800" stroke="#000" stroke-width="1"/>
<text x="439.1" y="601.1" font-size="11.0" fill="#000" text-anchor="start" font-style="italic" stroke="none" xml:space="preserve">© Thybo, 2023;  © Artemieva, 2023</text>
</svg></body></html>
